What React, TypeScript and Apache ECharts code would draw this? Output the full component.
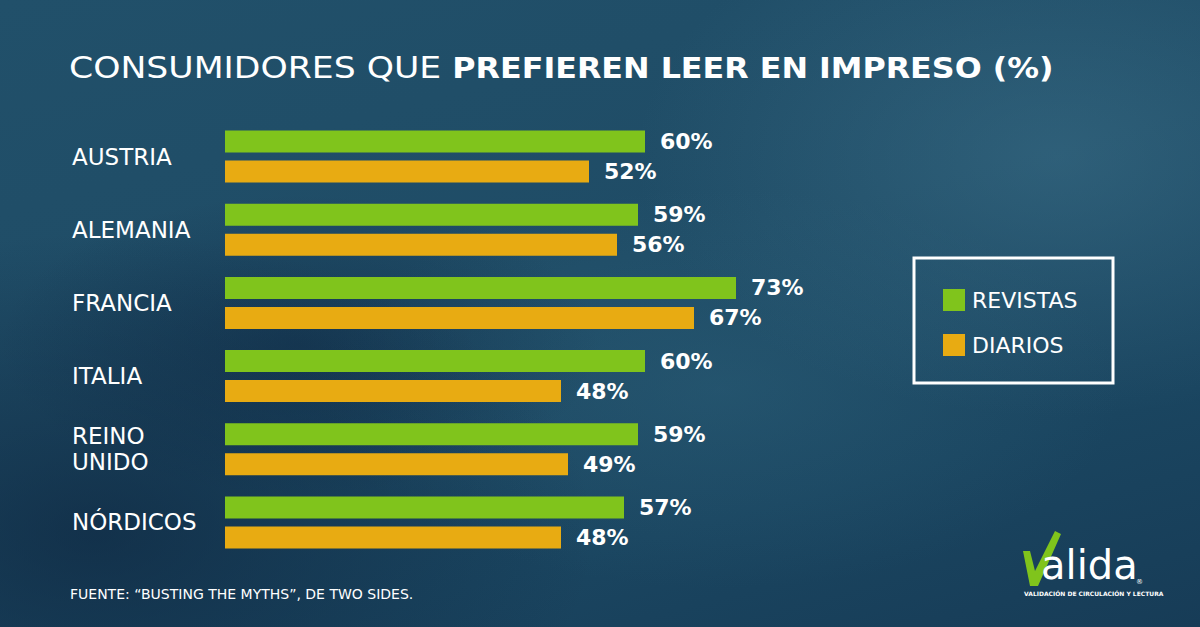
import React, { useEffect, useRef } from "react";
import * as echarts from "echarts";

const categories = ["AUSTRIA", "ALEMANIA", "FRANCIA", "ITALIA", "REINO\nUNIDO", "NÓRDICOS"];
const revistas = [60, 59, 73, 60, 59, 57];
const diarios = [52, 56, 67, 48, 49, 48];
const seriesNames = ["REVISTAS", "DIARIOS"];

const GREEN = "#80c41c";
const ORANGE = "#e8ab12";
const FONT = "DejaVu Sans";

export default function App() {
  const ref = useRef<HTMLDivElement>(null);
  useEffect(() => {
    if (!ref.current) return;
    const chart = echarts.init(ref.current, null, { renderer: "svg" });
    const valueLabel = {
      show: true,
      position: "right",
      distance: 15,
      color: "#ffffff",
      fontFamily: FONT,
      fontWeight: "bold",
      fontSize: 22,
      formatter: (p: any) => p.value + "%",
    };
    chart.setOption({
      animation: false,
      backgroundColor: "transparent",
      legend: {
        orient: "vertical",
        left: 943,
        top: 289,
        padding: 0,
        itemWidth: 22,
        itemHeight: 22,
        itemGap: 23,
        icon: "rect",
        data: seriesNames,
        textStyle: { color: "#ffffff", fontFamily: FONT, fontSize: 22, padding: [0, 0, 0, 2] },
      },
      grid: { left: 225, width: 700, top: 120, height: 439 },
      xAxis: {
        type: "value",
        min: 0,
        max: 100,
        show: false,
      },
      yAxis: {
        type: "category",
        data: categories,
        inverse: true,
        axisLine: { show: false },
        axisTick: { show: false },
        splitLine: { show: false },
        axisLabel: {
          align: "left",
          margin: 153,
          color: "#ffffff",
          fontFamily: FONT,
          fontSize: 23,
          lineHeight: 26,
        },
      },
      series: [
        {
          name: seriesNames[0],
          type: "bar",
          data: revistas,
          barWidth: 22,
          barGap: "36%",
          itemStyle: { color: GREEN },
          label: valueLabel,
        },
        {
          name: seriesNames[1],
          type: "bar",
          data: diarios,
          barWidth: 22,
          itemStyle: { color: ORANGE },
          label: valueLabel,
        },
      ],
      graphic: [
        {
          type: "text",
          x: 69,
          y: 68,
          scaleX: 1.155,
          style: {
            text: "{l|CONSUMIDORES QUE }{b|PREFIEREN LEER EN IMPRESO (%)}",
            verticalAlign: "middle",
            rich: {
              l: { fontFamily: FONT, fontSize: 30, fontWeight: "normal", fill: "#ffffff", color: "#ffffff" },
              b: { fontFamily: FONT, fontSize: 27.5, fontWeight: "bold", fill: "#ffffff", color: "#ffffff" },
            },
          },
        },
        {
          type: "rect",
          shape: { x: 914, y: 258, width: 199, height: 125 },
          style: { fill: "none", stroke: "#ffffff", lineWidth: 3 },
        },
        {
          type: "text",
          x: 70,
          y: 594,
          style: {
            text: "FUENTE: “BUSTING THE MYTHS”, DE TWO SIDES.",
            fill: "#ffffff",
            font: `14px "${FONT}"`,
            verticalAlign: "middle",
          },
        },
        {
          type: "polygon",
          shape: {
            points: [
              [1023, 551],
              [1030, 551],
              [1035, 571],
              [1055, 531],
              [1061, 534],
              [1038, 586],
              [1030, 586],
            ],
          },
          style: { fill: GREEN },
        },
        {
          type: "text",
          x: 1041,
          y: 585,
          style: {
            text: "alida",
            fill: "#ffffff",
            font: `40px "Liberation Sans Narrow", "${FONT}"`,
            verticalAlign: "bottom",
          },
        },
        {
          type: "text",
          x: 1136,
          y: 582,
          style: { text: "®", fill: "#ffffff", font: `7px "${FONT}"`, verticalAlign: "middle" },
        },
        {
          type: "text",
          x: 1024,
          y: 593,
          style: {
            text: "VALIDACIÓN DE CIRCULACIÓN Y LECTURA",
            fill: "#ffffff",
            font: `bold 6px "Liberation Sans Narrow", "${FONT}"`,
            verticalAlign: "middle",
          },
        },
      ],
    });
    return () => chart.dispose();
  }, []);
  return (
    <div
      style={{
        position: "fixed",
        left: 0,
        top: 0,
        width: 1200,
        height: 627,
        background:
          "radial-gradient(ellipse 420px 260px at 88% 25%, rgba(70,125,150,0.4), rgba(70,125,150,0) 100%)," +
          "radial-gradient(ellipse 500px 300px at 8% 85%, rgba(10,30,55,0.55), rgba(10,30,55,0) 100%)," +
          "radial-gradient(ellipse 300px 150px at 25% 55%, rgba(12,35,62,0.45), rgba(12,35,62,0) 100%)," +
          "radial-gradient(ellipse 400px 200px at 60% 62%, rgba(50,105,130,0.35), rgba(50,105,130,0) 100%)," +
          "linear-gradient(165deg, #21506a 0%, #1f4c66 45%, #1a4560 75%, #173c57 100%)",
      }}
    >
      <div ref={ref} style={{ width: 1200, height: 627 }} />
    </div>
  );
}
